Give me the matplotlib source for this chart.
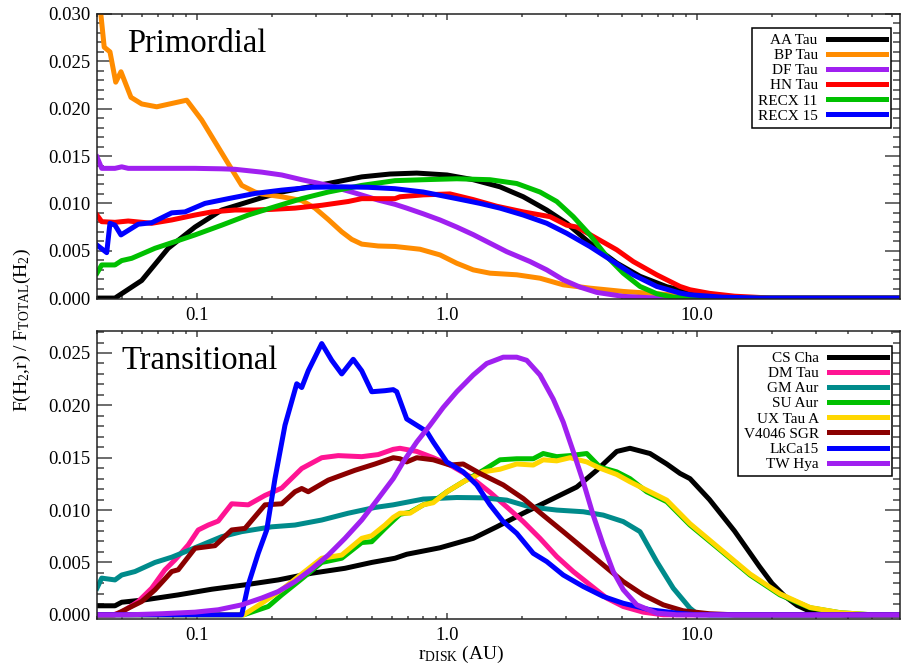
import numpy as np
import matplotlib
matplotlib.use("Agg")
import matplotlib.pyplot as plt
from matplotlib.ticker import MultipleLocator, LogLocator, NullFormatter, FormatStrFormatter

plt.rcParams["font.family"] = ["Liberation Serif", "DejaVu Serif"]
plt.rcParams["mathtext.fontset"] = "custom"
plt.rcParams["mathtext.rm"] = "Liberation Serif"
plt.rcParams["mathtext.it"] = "Liberation Serif:italic"

# radial profiles: log10(r / AU) and flux fraction in units of 1e-3

# --- primordial disks ---
aa_tau_logr = [-1.40, -1.328, -1.221, -1.115, -1.008, -0.901, -0.741, -0.661, -0.581, -0.475,
               -0.341, -0.228, -0.121, 0.0, 0.105, 0.212, 0.305, 0.399, 0.479, 0.572, 0.679,
               0.772, 0.879, 0.972, 1.08, 1.20, 1.81]
aa_tau_f = [0, 0, 1.86, 5.26, 7.5, 9.3, 10.6, 11.2, 11.6, 12.1, 12.8, 13.1, 13.2, 13.0, 12.5,
            11.75, 10.7, 9.3, 7.9, 5.8, 3.7, 2.3, 1.2, 0.6, 0.2, 0, 0]

bp_tau_logr = [-1.40, -1.371, -1.348, -1.325, -1.304, -1.264, -1.221, -1.161, -1.041, -0.981,
               -0.928, -0.875, -0.821, -0.768, -0.741, -0.661, -0.581, -0.528, -0.475, -0.421,
               -0.381, -0.341, -0.275, -0.208, -0.108, -0.028, 0.039, 0.105, 0.172, 0.279,
               0.372, 0.465, 0.572, 0.705, 0.839, 0.972, 1.10, 1.30, 1.81]
bp_tau_f = [34, 26.5, 26.0, 22.8, 23.9, 21.2, 20.5, 20.2, 20.9, 18.8, 16.5, 14.2, 11.9, 11.2,
            11.0, 10.7, 10.3, 9.5, 8.3, 7.0, 6.2, 5.7, 5.5, 5.45, 5.16, 4.56, 3.68, 2.98, 2.63,
            2.46, 2.1, 1.4, 1.05, 0.7, 0.46, 0.18, 0.05, 0, 0]

df_tau_logr = [-1.40, -1.381, -1.328, -1.301, -1.275, -1.141, -1.008, -0.901, -0.848, -0.741,
               -0.661, -0.581, -0.475, -0.368, -0.275, -0.208, -0.161, -0.095, -0.028, 0.039,
               0.105, 0.172, 0.239, 0.332, 0.399, 0.465, 0.532, 0.599, 0.705, 0.839, 1.81]
df_tau_f = [14.9, 13.7, 13.7, 13.86, 13.7, 13.7, 13.7, 13.65, 13.6, 13.3, 13.0, 12.5, 11.9,
            11.1, 10.35, 9.9, 9.5, 8.9, 8.25, 7.5, 6.7, 5.8, 4.9, 3.86, 2.98, 1.93, 1.16, 0.6,
            0.18, 0, 0]

hn_tau_logr = [-1.40, -1.381, -1.328, -1.275, -1.181, -1.101, -1.008, -0.941, -0.848, -0.768,
               -0.701, -0.608, -0.501, -0.395, -0.341, -0.208, -0.188, -0.095, 0.012, 0.105,
               0.199, 0.305, 0.412, 0.479, 0.519, 0.599, 0.679, 0.745, 0.839, 0.932, 0.972,
               1.05, 1.15, 1.30, 1.81]
hn_tau_f = [8.77, 8.07, 8.0, 8.14, 7.9, 8.25, 8.77, 9.1, 9.3, 9.3, 9.37, 9.5, 9.8, 10.2, 10.5,
            10.5, 10.7, 10.9, 11.0, 10.4, 9.7, 9.1, 8.6, 7.7, 7.5, 6.3, 5.1, 3.86, 2.46, 1.23,
            0.88, 0.5, 0.2, 0, 0]

recx11_logr = [-1.40, -1.381, -1.328, -1.301, -1.261, -1.168, -1.088, -1.008, -0.901, -0.795,
               -0.688, -0.581, -0.475, -0.341, -0.208, -0.095, 0.039, 0.172, 0.279, 0.372,
               0.439, 0.505, 0.572, 0.639, 0.705, 0.772, 0.839, 0.905, 1.0, 1.81]
recx11_f = [2.63, 3.5, 3.5, 3.96, 4.2, 5.26, 5.96, 6.67, 7.7, 8.77, 9.65, 10.5, 11.2, 11.9,
            12.4, 12.5, 12.6, 12.5, 12.1, 11.2, 10.2, 8.6, 6.67, 4.4, 2.63, 1.23, 0.46, 0.1, 0, 0]

recx15_logr = [-1.40, -1.361, -1.348, -1.328, -1.304, -1.235, -1.181, -1.101, -1.048, -0.968,
               -0.875, -0.768, -0.661, -0.541, -0.421, -0.315, -0.208, -0.095, 0.039, 0.132,
               0.212, 0.305, 0.399, 0.479, 0.572, 0.665, 0.745, 0.839, 0.932, 0.972, 1.10,
               1.25, 1.81]
recx15_f = [5.6, 4.8, 7.9, 7.7, 6.67, 7.8, 7.96, 9.0, 9.1, 10.0, 10.5, 11.05, 11.4, 11.7,
            11.75, 11.7, 11.55, 11.2, 10.5, 10.0, 9.5, 8.77, 7.9, 6.84, 5.44, 3.86, 2.46, 1.23,
            0.53, 0.35, 0.1, 0, 0]

# --- transitional disks ---
cs_cha_logr = [-1.40, -1.328, -1.301, -1.208, -1.075, -0.941, -0.808, -0.675, -0.541, -0.408,
               -0.301, -0.208, -0.161, -0.028, 0.105, 0.199, 0.305, 0.412, 0.519, 0.599, 0.679,
               0.732, 0.812, 0.879, 0.932, 0.972, 1.05, 1.10, 1.15, 1.20, 1.25, 1.30, 1.35,
               1.40, 1.45, 1.50, 1.60, 1.81]
cs_cha_f = [0.86, 0.86, 1.2, 1.43, 1.9, 2.44, 2.86, 3.33, 3.97, 4.44, 5.0, 5.4, 5.78, 6.4, 7.3,
            8.4, 9.7, 10.95, 12.2, 13.8, 15.6, 15.9, 15.4, 14.4, 13.5, 13.0, 11.0, 9.5, 8.0,
            6.3, 4.6, 3.0, 1.8, 0.9, 0.35, 0.1, 0, 0]

dm_tau_logr = [-1.40, -1.335, -1.301, -1.235, -1.181, -1.128, -1.088, -1.035, -0.995, -0.955,
               -0.915, -0.861, -0.795, -0.728, -0.661, -0.581, -0.501, -0.435, -0.341, -0.275,
               -0.215, -0.188, -0.121, -0.055, 0.012, 0.092, 0.172, 0.239, 0.305, 0.372, 0.439,
               0.505, 0.572, 0.639, 0.705, 0.785, 0.865, 1.81]
dm_tau_f = [0, 0, 0.25, 1.27, 2.54, 4.3, 5.24, 6.67, 8.1, 8.57, 8.95, 10.6, 10.5, 11.4, 12.1,
            13.97, 15.0, 15.2, 15.1, 15.3, 15.8, 15.9, 15.6, 15.0, 14.3, 13.2, 11.7, 10.3, 8.9,
            7.3, 5.56, 4.13, 2.86, 1.59, 0.79, 0.25, 0, 0]

gm_aur_logr = [-1.40, -1.381, -1.328, -1.301, -1.248, -1.168, -1.101, -1.008, -0.901, -0.821,
               -0.701, -0.608, -0.501, -0.395, -0.288, -0.215, -0.095, 0.039, 0.145, 0.239,
               0.332, 0.439, 0.545, 0.625, 0.705, 0.772, 0.839, 0.905, 0.972, 1.0, 1.05, 1.81]
gm_aur_f = [2.54, 3.5, 3.33, 3.8, 4.13, 5.0, 5.5, 6.4, 7.46, 7.94, 8.4, 8.57, 9.05, 9.7, 10.25,
            10.5, 11.05, 11.2, 11.17, 10.95, 10.3, 10.0, 9.84, 9.52, 8.9, 7.94, 5.08, 2.54,
            0.63, 0.1, 0, 0]

su_aur_logr = [-1.40, -0.813, -0.715, -0.661, -0.581, -0.501, -0.421, -0.341, -0.301, -0.248,
               -0.215, -0.188, -0.148, -0.095, -0.055, 0.0, 0.065, 0.145, 0.212, 0.279, 0.345,
               0.385, 0.439, 0.492, 0.559, 0.612, 0.679, 0.732, 0.799, 0.879, 0.972, 1.092,
               1.212, 1.332, 1.452, 1.572, 1.70, 1.81]
su_aur_f = [0, 0, 0.79, 1.9, 3.43, 5.0, 5.4, 6.9, 6.98, 8.25, 9.0, 9.6, 9.78, 10.5, 10.8,
            11.75, 12.7, 13.8, 14.8, 14.9, 14.9, 15.4, 15.1, 15.2, 15.4, 14.1, 13.65, 13.0,
            11.75, 10.8, 8.57, 6.2, 3.8, 1.9, 0.67, 0.2, 0, 0]

ux_tau_a_logr = [-1.40, -0.813, -0.741, -0.661, -0.581, -0.501, -0.421, -0.341, -0.301, -0.248,
                 -0.215, -0.188, -0.148, -0.095, -0.055, 0.0, 0.065, 0.145, 0.212, 0.279, 0.345,
                 0.385, 0.439, 0.492, 0.559, 0.612, 0.679, 0.732, 0.799, 0.879, 0.972, 1.092,
                 1.212, 1.332, 1.452, 1.572, 1.70, 1.81]
ux_tau_a_f = [0, 0, 1.1, 2.4, 3.9, 5.4, 5.7, 7.3, 7.55, 8.57, 9.3, 9.7, 9.7, 10.5, 10.7, 11.75,
              12.7, 13.65, 13.9, 14.4, 14.3, 14.8, 14.7, 15.0, 14.6, 14.0, 13.4, 12.7, 11.9,
              10.95, 8.7, 6.3, 3.9, 2.0, 0.7, 0.2, 0, 0]

v4046_logr = [-1.40, -1.328, -1.275, -1.221, -1.168, -1.101, -1.075, -1.008, -0.928, -0.861,
              -0.808, -0.728, -0.661, -0.608, -0.581, -0.555, -0.475, -0.368, -0.288, -0.215,
              -0.188, -0.161, -0.121, -0.055, 0.012, 0.065, 0.132, 0.225, 0.305, 0.385, 0.465,
              0.545, 0.625, 0.705, 0.785, 0.865, 0.945, 1.05, 1.15, 1.81]
v4046_f = [0, 0, 0.63, 1.27, 2.38, 4.13, 4.3, 6.35, 6.6, 8.1, 8.25, 10.5, 10.6, 11.75, 12.06,
           11.75, 12.86, 13.8, 14.4, 15.0, 14.9, 14.6, 15.0, 14.8, 14.3, 14.4, 13.5, 12.4, 11.1,
           9.5, 7.94, 6.35, 4.76, 3.17, 1.9, 0.95, 0.38, 0.1, 0, 0]

lkca15_logr = [-1.40, -0.821, -0.795, -0.755, -0.721, -0.688, -0.648, -0.601, -0.581, -0.555,
               -0.501, -0.461, -0.421, -0.375, -0.341, -0.301, -0.248, -0.215, -0.201, -0.161,
               -0.121, -0.081, -0.055, -0.001, 0.065, 0.119, 0.172, 0.225, 0.279, 0.345, 0.399,
               0.465, 0.545, 0.625, 0.705, 0.812, 0.919, 1.0, 1.81]
lkca15_f = [0, 0, 2.86, 5.87, 8.1, 13.0, 18.1, 22.06, 21.7, 23.3, 25.9, 24.3, 23.0, 24.4, 23.3,
            21.3, 21.4, 21.5, 21.3, 18.7, 18.1, 17.5, 16.5, 14.6, 13.65, 12.4, 10.5, 8.9, 7.78,
            5.87, 5.08, 3.8, 2.7, 1.75, 1.1, 0.48, 0.16, 0, 0]

tw_hya_logr = [-1.40, -1.275, -1.141, -1.008, -0.915, -0.821, -0.741, -0.675, -0.608, -0.541,
               -0.475, -0.408, -0.341, -0.275, -0.215, -0.175, -0.121, -0.068, -0.015, 0.039,
               0.105, 0.159, 0.225, 0.279, 0.319, 0.372, 0.425, 0.465, 0.505, 0.545, 0.585,
               0.625, 0.665, 0.705, 0.759, 0.839, 0.919, 1.81]
tw_hya_f = [0, 0, 0.1, 0.25, 0.48, 0.95, 1.6, 2.22, 3.17, 4.38, 5.7, 7.3, 9.05, 11.1, 13.0,
            14.6, 16.5, 18.1, 19.8, 21.3, 22.9, 24.0, 24.6, 24.6, 24.3, 22.9, 20.6, 18.4, 15.6,
            12.7, 9.5, 6.67, 4.13, 2.4, 0.95, 0.16, 0, 0]

primordial = [
    ("AA Tau", aa_tau_logr, aa_tau_f, "#000000"),
    ("BP Tau", bp_tau_logr, bp_tau_f, "#FF8C00"),
    ("DF Tau", df_tau_logr, df_tau_f, "#A020F0"),
    ("HN Tau", hn_tau_logr, hn_tau_f, "#FF0000"),
    ("RECX 11", recx11_logr, recx11_f, "#00C000"),
    ("RECX 15", recx15_logr, recx15_f, "#0000FF"),
]
transitional = [
    ("CS Cha", cs_cha_logr, cs_cha_f, "#000000"),
    ("DM Tau", dm_tau_logr, dm_tau_f, "#FF1493"),
    ("GM Aur", gm_aur_logr, gm_aur_f, "#008B8B"),
    ("SU Aur", su_aur_logr, su_aur_f, "#00C000"),
    ("UX Tau A", ux_tau_a_logr, ux_tau_a_f, "#FFD700"),
    ("V4046 SGR", v4046_logr, v4046_f, "#8B0000"),
    ("LkCa15", lkca15_logr, lkca15_f, "#0000FF"),
    ("TW Hya", tw_hya_logr, tw_hya_f, "#A020F0"),
]

fig = plt.figure(figsize=(9.02, 6.66), dpi=100)
ax1 = fig.add_axes([0.1075, 0.551, 0.8903, 0.428])
ax2 = fig.add_axes([0.1075, 0.0706, 0.8903, 0.4324])


def style_axes(ax, ymax, ylow):
    ax.set_xscale("log")
    ax.set_xlim(10 ** -1.4, 10 ** 1.812)
    ax.set_ylim(ylow, ymax)
    ax.set_xticks([0.1, 1.0, 10.0], ["0.1", "1.0", "10.0"])
    ax.xaxis.set_minor_locator(LogLocator(base=10, subs=np.arange(2, 10)))
    ax.xaxis.set_minor_formatter(NullFormatter())
    ax.yaxis.set_major_locator(MultipleLocator(0.005))
    ax.yaxis.set_minor_locator(MultipleLocator(0.001))
    ax.yaxis.set_major_formatter(FormatStrFormatter("%.3f"))
    ax.tick_params(which="both", direction="in", top=True, right=True,
                   color="#444444", width=1.1, labelsize=13.5)
    ax.tick_params(axis="x", which="major", length=4.3, pad=6)
    ax.tick_params(axis="x", which="minor", length=2.2)
    ax.tick_params(axis="y", which="major", length=10.8, pad=5)
    ax.tick_params(axis="y", which="minor", length=5)
    for sp in ax.spines.values():
        sp.set_linewidth(1.1)
        sp.set_color("#222222")


def draw_panel(ax, stars, anchor):
    for name, logr, f, col in stars:
        ax.plot(10 ** np.array(logr), np.array(f) * 1e-3, color=col, lw=3.6,
                label=name, solid_joinstyle="round")
    leg = ax.legend(loc="upper right", bbox_to_anchor=anchor, borderaxespad=0,
                    markerfirst=False, fancybox=False, framealpha=1, edgecolor="black",
                    fontsize=11, handlelength=3.8, handletextpad=0.65, labelspacing=0.095,
                    borderpad=0.35)
    leg.get_frame().set_linewidth(1.1)
    for line in leg.get_lines():
        line.set_linewidth(3.6)


style_axes(ax1, 0.0300, -0.0001)
style_axes(ax2, 0.0271, -0.0004)
draw_panel(ax1, primordial, (0.9888, 0.951))
draw_panel(ax2, transitional, (0.990, 0.948))

ax1.text(0.037, 0.867, "Primordial", transform=ax1.transAxes, fontsize=23.5, va="baseline")
ax2.text(0.031, 0.868, "Transitional", transform=ax2.transAxes, fontsize=23.5, va="baseline")

fig.text(0.025, 0.505, r"F(H$_2$,r) / F$_{\mathrm{TOTAL}}$(H$_2$)", rotation=90,
         fontsize=14, ha="center", va="center")
fig.text(0.511, 0.018, r"r$_{\mathrm{DISK}}$ (AU)", fontsize=14, ha="center", va="center")

fig.savefig("out.png", dpi=100)
